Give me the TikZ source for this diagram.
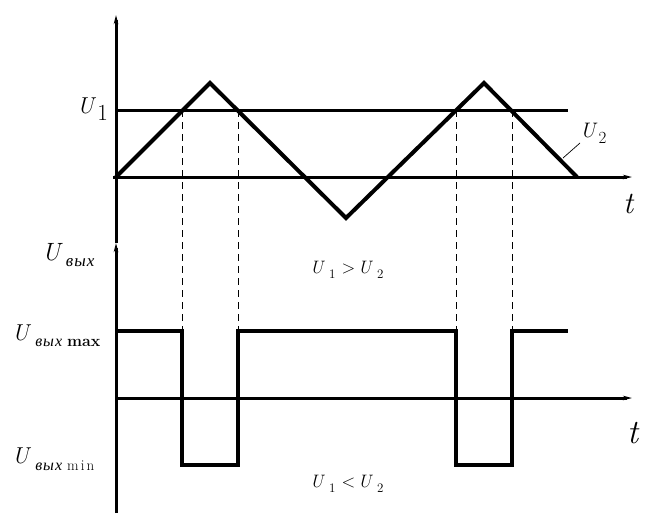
\documentclass[tikz,border=0pt]{standalone}
\usepackage{fontspec}
\newfontfamily\cyr{Liberation Serif}
\usetikzlibrary{arrows.meta}
\newcommand{\vU}{\textit{U}}
\begin{document}
\begin{tikzpicture}[x=1pt,y=-1pt,
  axis/.style={line width=3pt},
  wave/.style={line width=4pt, line join=miter},
  guide/.style={line width=1pt, dash pattern=on 7pt off 5pt},
  tip/.style={-{Stealth[length=9pt,width=4.5pt]}},
  lbl/.style={inner sep=0pt, anchor=base west}]
\useasboundingbox (0,0) rectangle (669,531);
% key points
\coordinate (O1) at (116,177);
\coordinate (P1) at (210,83);
\coordinate (V1) at (346,218);
\coordinate (P2) at (484,83);
\coordinate (E1) at (577,177);
\coordinate (A) at (182,110);
\coordinate (B) at (238,110);
\coordinate (C) at (456,110);
\coordinate (D) at (512,110);
\coordinate (a) at (182,331);
\coordinate (b) at (238,331);
\coordinate (c) at (456,331);
\coordinate (d) at (512,331);
\coordinate (a2) at (182,465);
\coordinate (b2) at (238,465);
\coordinate (c2) at (456,465);
\coordinate (d2) at (512,465);
\coordinate (ybot) at (116,513);
\coordinate (ymid) at (116,243);
\coordinate (ytop) at (116,15);
\coordinate (t1s) at (113,177);
\coordinate (t1e) at (632,177);
\coordinate (t2s) at (116,398);
\coordinate (t2e) at (632,398);
\coordinate (u1s) at (116,110);
\coordinate (u1e) at (568,110);
\coordinate (hs) at (116,331);
\coordinate (he) at (568,331);
\coordinate (l1) at (563,158);
\coordinate (l2) at (580,143);
% axes
\draw[axis,tip] (ybot) -- (ymid);
\draw[axis,tip] (ymid) -- (ytop);
\draw[axis,tip] (t1s) -- (t1e);
\draw[axis,tip] (t2s) -- (t2e);
\draw[axis] (u1s) -- (u1e);
% guides
\draw[guide] (A) -- (a);
\draw[guide] (B) -- (b);
\draw[guide] (C) -- (c);
\draw[guide] (D) -- (d);
% waves
\draw[wave] (O1) -- (P1) -- (V1) -- (P2) -- (E1);
\draw[wave] (hs) -- (a) -- (a2) -- (b2) -- (b) -- (c) -- (c2) -- (d2) -- (d) -- (he);
\draw[line width=0.7pt] (l1) -- (l2);
% labels
\node[lbl] (LU1) at (77,113) {\fontsize{23}{26}\selectfont\vU\kern1pt\raisebox{-7pt}{1}};
\node[lbl] (LU2) at (580,137) {\fontsize{21}{24}\selectfont\vU\kern1pt\raisebox{-6pt}{\fontsize{17}{20}\selectfont 2}};
\node[lbl] (Lt1) at (623,213) {\fontsize{31}{32}\selectfont\textit{t}};
\node[lbl] (Lt2) at (627,443) {\fontsize{34}{36}\selectfont\textit{t}};
\node[lbl] (LUv) at (42,260) {\fontsize{25}{28}\selectfont\vU\kern3pt\raisebox{-6pt}{\fontsize{17}{18}\selectfont\cyr\itshape в\kern1pt ы\kern1pt х}};
\node[lbl] (LUmax) at (12,340) {\fontsize{23}{26}\selectfont\vU\kern4pt\raisebox{-6pt}{\fontsize{16}{18}\selectfont\cyr\itshape в\kern1pt ы\kern1pt х}\kern5pt\raisebox{-6pt}{\fontsize{16}{18}\selectfont\bfseries max}};
\node[lbl] (LUmin) at (12,463) {\fontsize{23}{26}\selectfont\vU\kern4pt\raisebox{-7pt}{\fontsize{16}{18}\selectfont\cyr\itshape в\kern1pt ы\kern1pt х}\kern5pt\raisebox{-7pt}{\fontsize{15}{18}\selectfont m\kern2pt i\kern2pt n}};
\node[lbl] (Lgt) at (310,273) {\fontsize{18}{20}\selectfont\vU\kern4pt\raisebox{-5pt}{\fontsize{13}{14}\selectfont 1}\kern6pt>\kern3pt\vU\kern4pt\raisebox{-5pt}{\fontsize{13}{14}\selectfont 2}};
\node[lbl] (Llt) at (310,487) {\fontsize{18}{20}\selectfont\vU\kern4pt\raisebox{-5pt}{\fontsize{13}{14}\selectfont 1}\kern6pt<\kern3pt\vU\kern4pt\raisebox{-5pt}{\fontsize{13}{14}\selectfont 2}};
\end{tikzpicture}
\end{document}
